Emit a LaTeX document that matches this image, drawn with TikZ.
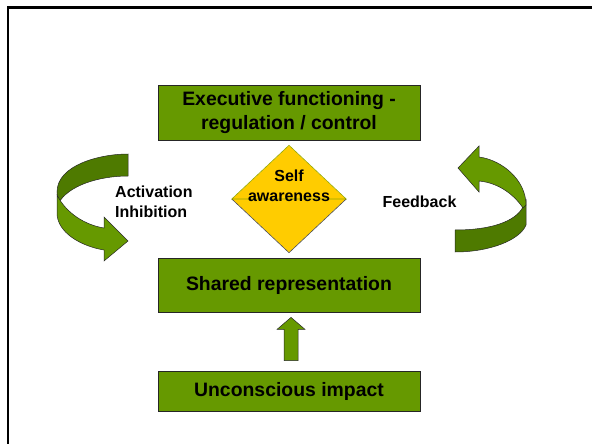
\documentclass[tikz,border=0pt]{standalone}
\usepackage{fontspec}
\setmainfont{Liberation Sans}
\usetikzlibrary{shapes.geometric, calc}

\definecolor{leaf}{RGB}{102,153,0}
\definecolor{leafdark}{RGB}{78,122,0}
\definecolor{sun}{RGB}{255,204,0}

\begin{document}
\begin{tikzpicture}[x=1pt, y=-1pt,
  box/.style={draw=black!85, line width=0.8pt, fill=leaf, minimum width=262pt, inner sep=0pt, align=center, font=\bfseries\fontsize{19.4}{23.5}\selectfont},
  lab/.style={inner sep=0pt, align=left, font=\bfseries\fontsize{16}{20}\selectfont},
  band/.style={draw=black!85, line width=0.5pt}]
\useasboundingbox (0,0) rectangle (592,444);

% Frame (only top and left edges show)
\draw[line width=2.5pt] (8,444) -- (8,7.5) -- (592,7.5);

% Boxes
\node[box, minimum height=55pt] (exec) at (289,112.5) {Executive functioning -\\regulation / control};
\node[box, minimum height=54pt] (shared) at (289,285) {Shared representation};
\node[box, minimum height=40pt] (uncon) at (289,391) {Unconscious impact};

% Self awareness diamond
\node[diamond, fill=sun, minimum width=114pt, minimum height=107pt, inner sep=0pt] (selfd) at (289,199) {};
\draw[black!70, line width=0.6pt] (selfd.west) -- (selfd.south) -- (selfd.east);
\draw[leaf!70!sun, line width=0.6pt] (selfd.west) -- (selfd.north) -- (selfd.east) -- cycle;
\node[lab, align=center] (selft) at ($(selfd.center)+(0,-13)$) {Self\\awareness};

% Side labels
\node[lab, anchor=west] (act) at (115,202) {Activation\\Inhibition};
\node[lab] (feed) at (419.5,202) {Feedback};

% Block arrow up
\coordinate (ub) at ($(uncon.north)+(2,-10)$);
\coordinate (ut) at ($(shared.south)+(2,5)$);
\draw[band, fill=leaf] ($(ub)+(-7,0)$) -- ($(ut)+(-7,12)$) -- ($(ut)+(-14,12)$) -- (ut)
  -- ($(ut)+(14,12)$) -- ($(ut)+(7,12)$) -- ($(ub)+(7,0)$) -- cycle;

% Left curved arrow (back then front)
\draw[band, fill=leafdark] (128,154) .. controls (100,154) and (57,165) .. (57,192)
  -- (58,204) .. controls (68,185) and (100,176) .. (128,176) -- cycle;
\draw[band, fill=leaf] (57,195) .. controls (66,213) and (85,225) .. (104,228)
  -- (104,217) -- (128,241) -- (104,261) -- (104,250)
  .. controls (80,246) and (57,232) .. (57,213) -- cycle;

% Right curved arrow (back then front)
\draw[band, fill=leafdark] (526,200) -- (526,225) .. controls (520,240) and (490,252) .. (455,252)
  -- (455,230) .. controls (490,230) and (515,222) .. (523,207) -- cycle;
\draw[band, fill=leaf] (458,168) -- (479,146) -- (479,157) .. controls (502,160) and (526,180) .. (526,205)
  -- (523,208) .. controls (515,196) and (500,183) .. (479,181) -- (479,192) -- cycle;
\end{tikzpicture}
\end{document}
